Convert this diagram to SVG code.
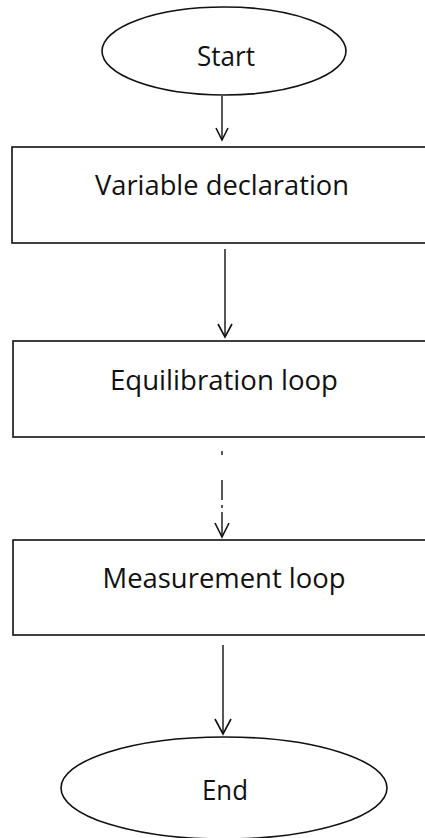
<svg xmlns="http://www.w3.org/2000/svg" width="425" height="838" viewBox="0 0 425 838">
<defs>
<style>
.shape{fill:#fff;stroke:#111;stroke-width:1.6}
.edge{fill:none;stroke:#111;stroke-width:1.4}
.head{fill:none;stroke:#111;stroke-width:1.6}
.lbl{font-family:"Open Sans","DejaVu Sans",sans-serif;font-size:27px;fill:#111;text-anchor:middle}
</style>
</defs>
<rect width="425" height="838" fill="#fff"/>
<g id="start">
<ellipse class="shape" cx="224" cy="51" rx="122" ry="44"/>
<text class="lbl" x="226" y="66" textLength="58" lengthAdjust="spacingAndGlyphs">Start</text>
</g>
<g id="variable-declaration">
<rect class="shape" x="12" y="147" width="430" height="96"/>
<text class="lbl" x="222" y="195" textLength="254" lengthAdjust="spacingAndGlyphs">Variable declaration</text>
</g>
<g id="equilibration-loop">
<rect class="shape" x="13" y="341" width="430" height="96"/>
<text class="lbl" x="224" y="390" textLength="228" lengthAdjust="spacingAndGlyphs">Equilibration loop</text>
</g>
<g id="measurement-loop">
<rect class="shape" x="13" y="540" width="430" height="95"/>
<text class="lbl" x="224" y="588" textLength="243" lengthAdjust="spacingAndGlyphs">Measurement loop</text>
</g>
<g id="end">
<ellipse class="shape" cx="224" cy="788" rx="163" ry="51"/>
<text class="lbl" x="225" y="800" textLength="46" lengthAdjust="spacingAndGlyphs">End</text>
</g>
<g id="connectors">
<line class="edge" x1="222" y1="96" x2="222" y2="140"/>
<path class="head" d="M216,128 L222,140 L228,128"/>
<line class="edge" x1="225" y1="249" x2="225" y2="337"/>
<path class="head" d="M218,324 L225,337 L232,324"/>
<path class="edge" d="M222,451 V455 M222,480 V500 M222,505 V508 M222,512 V537"/>
<path class="head" d="M215,523 L222,537 L229,523"/>
<line class="edge" x1="223" y1="645" x2="223" y2="734"/>
<path class="head" d="M215,719 L223,734 L231,719"/>
</g>
</svg>
